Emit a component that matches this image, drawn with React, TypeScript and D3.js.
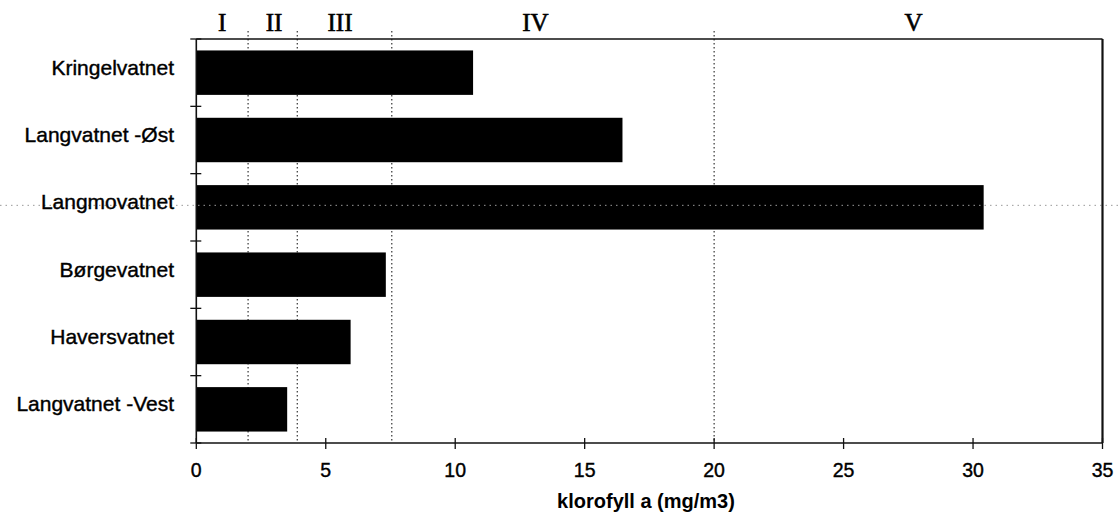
import React from "react";
import * as d3 from "d3";

const categories = [
  "Kringelvatnet",
  "Langvatnet -Øst",
  "Langmovatnet",
  "Børgevatnet",
  "Haversvatnet",
  "Langvatnet -Vest",
];
const values = [10.69, 16.46, 30.41, 7.32, 5.96, 3.51];
const xTicks = [0, 5, 10, 15, 20, 25, 30, 35];
const classBounds = [2, 3.9, 7.55, 20];
const classLabels = ["I", "II", "III", "IV", "V"];
const classLabelPos = [1, 3, 5.55, 13.1, 27.7];
const axisTitle = "klorofyll a (mg/m3)";

const W = 1119;
const H = 522;
const left = 196.3;
const right = 1102.5;
const top = 39;
const bottom = 443;

export default function App() {
  const x = d3.scaleLinear().domain([0, 35]).range([left, right]);
  const y = d3
    .scaleBand<string>()
    .domain(categories)
    .range([top, bottom])
    .paddingInner(0.34)
    .paddingOuter(0.17);
  const step = y.step();
  const sans = "'Liberation Sans', Arial, Helvetica, sans-serif";
  const serif = "'Liberation Serif', 'Times New Roman', serif";
  const bandEdges = d3.range(categories.length + 1).map((i) => top + i * step);
  const strayY = (y("Langmovatnet") ?? 0) + y.bandwidth() / 2 - 2;

  return (
    <svg
      width={W}
      height={H}
      viewBox={`0 0 ${W} ${H}`}
      style={{ position: "absolute", left: 0, top: 0, background: "#fff" }}
    >
      <rect x={0} y={0} width={W} height={H} fill="#fff" />
      {classBounds.map((b, i) => (
        <line
          key={"cb" + i}
          x1={x(b)}
          x2={x(b)}
          y1={31}
          y2={bottom}
          stroke="#333"
          strokeWidth={1.2}
          strokeDasharray="1.5,2.5"
        />
      ))}
      {categories.map((c, i) => (
        <rect
          key={c}
          x={x(0)}
          y={y(c)}
          width={x(values[i]) - x(0)}
          height={y.bandwidth()}
          fill="#000"
        />
      ))}
      <line
        x1={0}
        x2={W}
        y1={strayY}
        y2={strayY}
        stroke="#999"
        strokeWidth={1}
        strokeDasharray="1.5,4"
      />
      <line x1={left} x2={right} y1={top} y2={top} stroke="#111" strokeWidth={1.6} />
      <line x1={right} x2={right} y1={top} y2={bottom} stroke="#111" strokeWidth={2.2} />
      <line x1={left} x2={right} y1={bottom} y2={bottom} stroke="#111" strokeWidth={1.6} />
      <line x1={left} x2={left} y1={top} y2={bottom} stroke="#111" strokeWidth={1.6} />
      {bandEdges.map((e, i) => (
        <line
          key={"yt" + i}
          x1={left - 6}
          x2={left + 5}
          y1={e}
          y2={e}
          stroke="#111"
          strokeWidth={1.3}
        />
      ))}
      {xTicks.map((t) => (
        <g key={"xt" + t}>
          <line
            x1={x(t)}
            x2={x(t)}
            y1={bottom - 5}
            y2={bottom + 6}
            stroke="#111"
            strokeWidth={1.3}
          />
          <text
            x={x(t)}
            y={477}
            textAnchor="middle"
            fontFamily={sans}
            fontSize={19.5}
            fill="#000"
            stroke="#000"
            strokeWidth={0.4}
          >
            {t}
          </text>
        </g>
      ))}
      {categories.map((c) => (
        <text
          key={"lbl" + c}
          x={174}
          y={(y(c) ?? 0) + y.bandwidth() / 2 + 2}
          textAnchor="end"
          fontFamily={sans}
          fontSize={21}
          fill="#000"
          stroke="#000"
          strokeWidth={0.4}
        >
          {c}
        </text>
      ))}
      {classLabels.map((l, i) => (
        <text
          key={"cl" + l}
          x={x(classLabelPos[i])}
          y={31}
          textAnchor="middle"
          fontFamily={serif}
          fontSize={25}
          fill="#000"
          stroke="#000"
          strokeWidth={0.6}
        >
          {l}
        </text>
      ))}
      <text
        x={646}
        y={508}
        textAnchor="middle"
        fontFamily={sans}
        fontWeight="bold"
        fontSize={20}
        fill="#000"
      >
        {axisTitle}
      </text>
    </svg>
  );
}
